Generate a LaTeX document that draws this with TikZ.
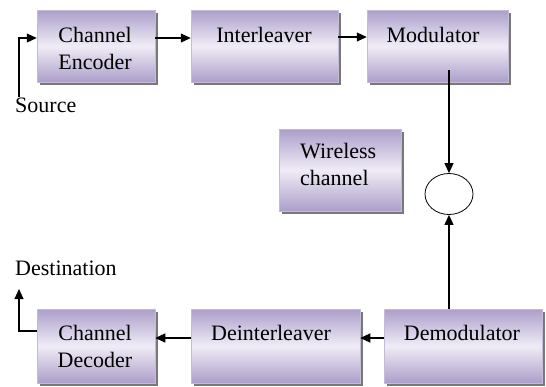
\documentclass[tikz,border=0pt]{standalone}
\usepackage{fontspec}
\setmainfont{Liberation Serif}
\usetikzlibrary{arrows.meta,shapes.geometric,shadows}

\definecolor{boxdark}{RGB}{172,158,202}
\definecolor{boxlight}{RGB}{240,236,246}
\definecolor{boxedge}{RGB}{196,188,214}
\definecolor{shadowgray}{RGB}{120,120,120}

\tikzset{
  blk/.style={rectangle, draw=boxedge, line width=0.5pt, inner sep=0pt,
    shading=axis, shading angle=-45,
    top color=boxdark, bottom color=boxdark, middle color=boxlight,
    drop shadow={shadow xshift=3pt, shadow yshift=-3pt, fill=shadowgray, opacity=1}},
  lbl/.style={inner sep=0pt, font=\fontsize{22}{27}\selectfont, align=center},
  arr/.style={line width=1.1pt, -{Triangle[length=10pt,width=9pt]}},
}

\begin{document}
\begin{tikzpicture}[x=1pt,y=-1pt]
\useasboundingbox (0,0) rectangle (546,386);

% transmitter chain
\node[blk, minimum width=118, minimum height=72] (ce) at (96,46) {};
\node[blk, minimum width=147, minimum height=72] (il) at (264.5,46) {};
\node[blk, minimum width=141, minimum height=72] (mod) at (437.5,46) {};
\node[lbl, anchor=north] (ceT) at (95,27) {Channel\\Encoder};
\node[lbl, anchor=north] (ilT) at (264,27) {Interleaver};
\node[lbl, anchor=north] (modT) at (433,27) {Modulator};

% channel
\node[blk, minimum width=122, minimum height=82] (wc) at (340,170) {};
\node[lbl, anchor=north west, align=left] (wcT) at (300,143) {Wireless\\channel};
\node[ellipse, draw, line width=0.8pt, minimum width=48, minimum height=41, inner sep=0pt] (ch) at (449,194) {};

% receiver chain
\node[blk, minimum width=118, minimum height=74] (cd) at (96,346) {};
\node[blk, minimum width=169, minimum height=74] (di) at (275.5,346) {};
\node[blk, minimum width=158, minimum height=74] (dm) at (463,346) {};
\node[lbl, anchor=north] (cdT) at (95,325) {Channel\\Decoder};
\node[lbl, anchor=north] (diT) at (271,325) {Deinterleaver};
\node[lbl, anchor=north] (dmT) at (462,325) {Demodulator};

% end labels
\node[lbl, anchor=base west] (srcT) at (15,112) {Source};
\node[lbl, anchor=base west] (dstT) at (15,275) {Destination};
\coordinate (src) at (19,97);
\coordinate (dst) at (19,289);

% connectors
\draw[arr] (src) |- ([yshift=8pt]ce.west);
\draw[arr] ([yshift=8pt]ce.east) -- ([yshift=8pt]il.west);
\draw[arr] ([yshift=9pt]il.east) -- ([yshift=9pt]mod.west);
\path (mod.south -| ch.north) ++(0,-12) coordinate (modtap);
\draw[arr] (modtap) -- (ch.north);
\draw[arr] (ch.south |- dm.north) -- (ch.south);
\draw[arr] ([yshift=8pt]dm.west) -- ([yshift=8pt]di.east);
\draw[arr] ([yshift=8pt]di.west) -- ([yshift=8pt]cd.east);
\draw[arr] ([yshift=15pt]cd.west) -| (dst);
\end{tikzpicture}
\end{document}
